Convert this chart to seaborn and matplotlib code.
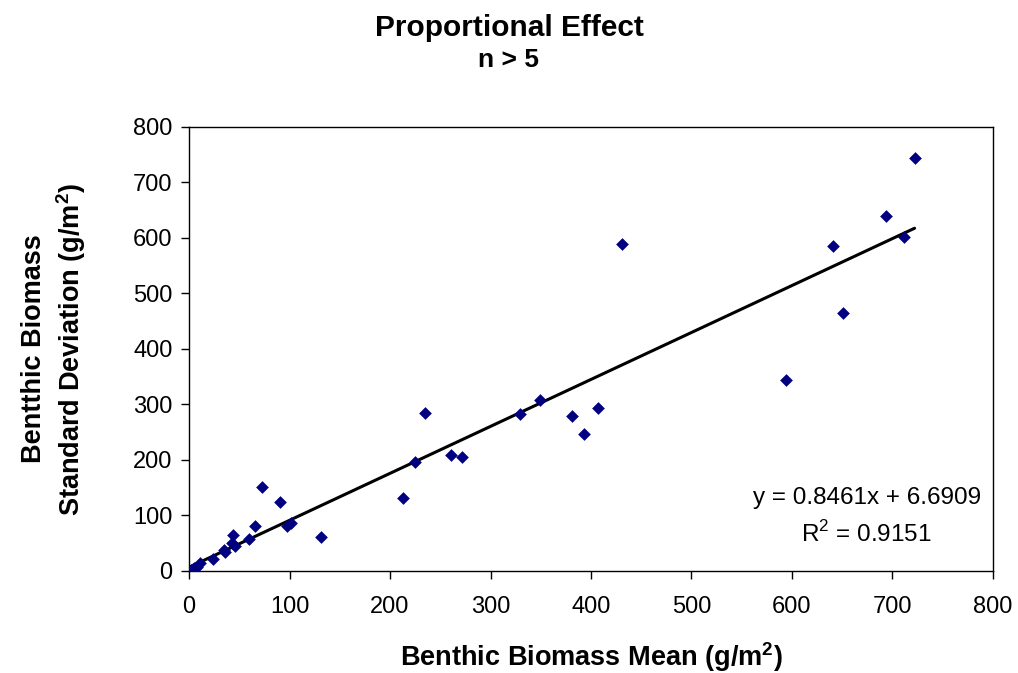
import matplotlib
matplotlib.use("Agg")
import matplotlib.pyplot as plt
import seaborn as sns
import numpy as np
import pandas as pd

mean_vals = [722, 694, 711, 641, 651, 594, 431, 349, 329, 381, 407, 393, 235, 225, 261, 272,
             213, 131, 73, 91, 97, 101, 66, 60, 44, 43, 46, 35, 36, 24, 11, 8, 5, 2, 1, 3]
sd_vals = [745, 640, 602, 585, 464, 345, 589, 308, 282, 280, 293, 247, 285, 196, 209, 205,
           131, 61, 151, 125, 81, 86, 81, 57, 64, 51, 45, 38, 34, 21, 14, 8, 5, 2, 0, 1]
slope = 0.8461
intercept = 6.6909
r2 = 0.9151

df = pd.DataFrame({"mean": mean_vals, "sd": sd_vals})

sns.set_theme(style="white")
plt.rcParams['font.family'] = ['Liberation Sans', 'DejaVu Sans']
plt.rcParams['mathtext.fontset'] = 'custom'
plt.rcParams['mathtext.rm'] = 'Liberation Sans'
plt.rcParams['mathtext.bf'] = 'Liberation Sans:bold'
for k in ['text.color', 'axes.labelcolor', 'xtick.color', 'ytick.color']:
    plt.rcParams[k] = 'black'

fig = plt.figure(figsize=(10.18, 6.73), dpi=100)
ax = fig.add_axes([0.1857, 0.1516, 0.7897, 0.6597])

sns.scatterplot(data=df, x="mean", y="sd", marker="D", color="#000080", s=42,
                edgecolor="#000080", linewidth=0, ax=ax, zorder=3)
xs = np.array([min(mean_vals), max(mean_vals)])
sns.lineplot(x=xs, y=slope * xs + intercept, color="black", linewidth=2.2, ax=ax, zorder=2)

ax.set_xlim(0, 800)
ax.set_ylim(0, 800)
ax.set_xticks(range(0, 801, 100))
ax.set_yticks(range(0, 801, 100))
for s in ax.spines.values():
    s.set_color("black")
    s.set_linewidth(1)
ax.tick_params(axis="both", which="both", direction="out", length=6, width=1,
               colors="black", labelsize=17, bottom=True, left=True)
ax.tick_params(axis="x", pad=12)
ax.tick_params(axis="y", pad=6)
ax.set_xlabel("Benthic Biomass Mean (g/m$^\\mathbf{2}$)", fontsize=19.5, fontweight="bold")
ax.set_ylabel("Bentthic Biomass\nStandard Deviation (g/m$^\\mathbf{2}$)", fontsize=19.5,
              fontweight="bold", linespacing=1.25)
ax.xaxis.set_label_coords(0.5, -0.155)
ax.yaxis.set_label_coords(-0.126, 0.5)

fig.text(0.5, 0.958, "Proportional Effect", ha="center", va="center", fontsize=21.5, fontweight="bold")
fig.text(0.5, 0.911, "n > 5", ha="center", va="center", fontsize=19, fontweight="bold")

ax.text(0.843, 0.164, "y = 0.8461x + 6.6909", transform=ax.transAxes, ha="center", va="center", fontsize=17.5)
ax.text(0.843, 0.083, "R$^2$ = 0.9151", transform=ax.transAxes, ha="center", va="center", fontsize=17.5)

fig.savefig("out.png", dpi=100)
